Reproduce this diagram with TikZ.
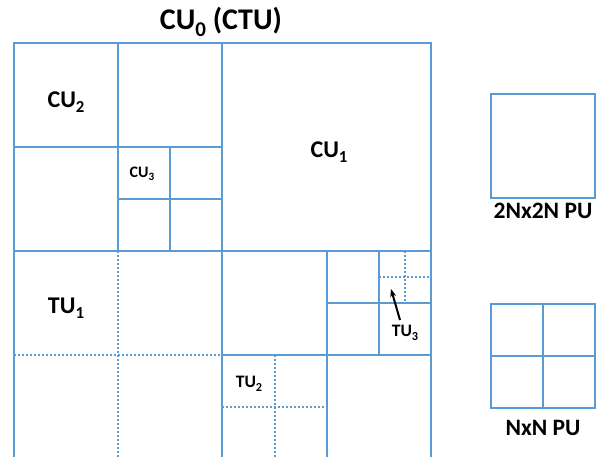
\documentclass[tikz,border=0pt]{standalone}
\usepackage{fontspec}
\setmainfont{Carlito}
\usetikzlibrary{arrows.meta}
\definecolor{cublue}{RGB}{91,155,213}
\newcommand{\lowidx}[1]{\raisebox{-0.22em}{\scalebox{0.7}{#1}}}
\begin{document}
\begin{tikzpicture}[x=1pt,y=-1pt,
  solidline/.style={draw=cublue,line width=2pt},
  dotline/.style={draw=cublue,line width=2pt,dash pattern=on 1.8pt off 2.2pt},
  lbl/.style={font=\bfseries\fontsize{24}{28}\selectfont,inner sep=0pt},
  smalllbl/.style={font=\bfseries\fontsize{16}{18}\selectfont,inner sep=0pt},
  midlbl/.style={font=\bfseries\fontsize{17.5}{20}\selectfont,inner sep=0pt},
  pulbl/.style={font=\bfseries\fontsize{23.5}{26}\selectfont,inner sep=0pt}]
\useasboundingbox (0,0) rectangle (600,457);
\begin{scope}
\clip (0,0) rectangle (600,457);
% dotted TU splits
\draw[dotline] (118,251) -- (118,463);
\draw[dotline] (14,355) -- (222,355);
\draw[dotline] (274.5,355) -- (274.5,463);
\draw[dotline] (222,407) -- (327,407);
\draw[dotline] (405,251) -- (405,303);
\draw[dotline] (379,277) -- (431,277);
% solid CU splits
\draw[solidline] (14,43) rectangle (431,459);
\draw[solidline] (222,43) -- (222,463);
\draw[solidline] (14,251) -- (431,251);
\draw[solidline] (118,43) -- (118,251);
\draw[solidline] (14,147) -- (222,147);
\draw[solidline] (170,147) -- (170,251);
\draw[solidline] (118,199) -- (222,199);
\draw[solidline] (327,251) -- (327,463);
\draw[solidline] (222,355) -- (431,355);
\draw[solidline] (379,251) -- (379,355);
\draw[solidline] (327,303) -- (431,303);
\end{scope}
% PU shapes
\draw[solidline] (491,94) rectangle (595,198);
\draw[solidline] (491,304) rectangle (595,408);
\draw[solidline] (543,304) -- (543,408);
\draw[solidline] (491,356) -- (595,356);
% labels
\node[lbl,font=\bfseries\fontsize{30}{34}\selectfont] (cu0) at (221,22) {CU\lowidx{0} (CTU)};
\node[lbl] (cu2) at (66,102) {CU\lowidx{2}};
\node[lbl] (cu1) at (329,152) {CU\lowidx{1}};
\node[smalllbl] (cu3) at (142,174) {CU\lowidx{3}};
\node[lbl] (tu1) at (66,308) {TU\lowidx{1}};
\node[midlbl] (tu2) at (249,384) {TU\lowidx{2}};
\node[midlbl] (tu3) at (405,333) {TU\lowidx{3}};
\coordinate (tu3tip) at (391,289);
\draw[line width=2pt,-{Stealth[length=8pt,width=6pt]}] (400,320) -- (tu3tip);
\node[pulbl] (pu2n) at (543,211) {2Nx2N PU};
\node[pulbl] (punn) at (543,428) {NxN PU};
\end{tikzpicture}
\end{document}
